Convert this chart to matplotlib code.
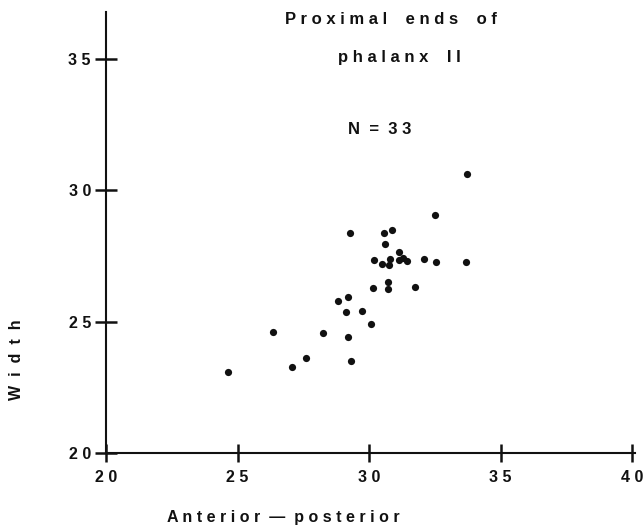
import matplotlib
matplotlib.use("Agg")
import matplotlib.pyplot as plt

# Proximal ends of phalanx II, N = 33
ant_post = [33.72, 32.49, 29.28, 30.56, 30.88, 30.62, 31.15, 30.17, 30.48, 30.75, 30.81,
            31.13, 31.30, 31.45, 32.08, 32.55, 33.68, 30.73, 30.73, 30.14, 31.73, 28.81,
            29.18, 29.10, 29.71, 30.07, 26.35, 28.25, 29.18, 27.59, 27.07, 29.31, 24.62]
width = [30.63, 29.04, 28.37, 28.37, 28.50, 27.94, 27.65, 27.35, 27.21, 27.17, 27.37,
         27.35, 27.43, 27.32, 27.39, 27.25, 27.28, 26.49, 26.23, 26.29, 26.32, 25.80,
         25.92, 25.36, 25.39, 24.92, 24.60, 24.56, 24.43, 23.60, 23.27, 23.50, 23.09]
xticks = [20, 25, 30, 35, 40]
yticks = [20, 25, 30, 35]
title_lines = ['Proximal ends of', 'phalanx II']
n_text = 'N = 33'
x_title = 'Anterior \u2014 posterior'
y_title = 'Width'


def spaced(s, gap=' ', word_gap='    '):
    # typewriter-like letter spacing of the original figure
    return word_gap.join(gap.join(w) for w in s.split(' '))


plt.rcParams['font.family'] = ['Liberation Sans', 'DejaVu Sans']
plt.rcParams['font.weight'] = 'bold'
plt.rcParams['axes.labelweight'] = 'bold'
ink = '#111111'

fig = plt.figure(figsize=(6.44, 5.26), dpi=100)
ax = fig.add_axes([0.1649, 0.1388, 0.8208, 0.8384])

ax.scatter(ant_post, width, s=27, color=ink, linewidths=0, zorder=3)

ax.set_xlim(20, 40.1)
ax.set_ylim(20, 36.78)
ax.set_xticks(xticks)
ax.set_yticks(yticks)
ax.set_xticklabels([spaced(str(t)) for t in xticks], fontsize=11.5, color=ink)
ax.set_yticklabels([spaced(str(t)) for t in yticks], fontsize=11.5, color=ink)

for side in ['top', 'right']:
    ax.spines[side].set_visible(False)
for side in ['left', 'bottom']:
    ax.spines[side].set_linewidth(1.5)
    ax.spines[side].set_color(ink)

ax.tick_params(axis='x', direction='inout', length=13, width=1.8, color=ink, pad=6)
ax.tick_params(axis='y', direction='inout', length=16, width=1.8, color=ink, pad=3)

ax.set_xlabel(spaced(x_title, word_gap='  '), fontsize=11.5, fontweight='bold', color=ink)
ax.xaxis.label.set_va('center')
ax.xaxis.set_label_coords(0.3345, -0.147)
ax.set_ylabel(spaced(y_title, gap='  '), fontsize=11.5, fontweight='bold', color=ink)
ax.yaxis.label.set_va('center')
ax.yaxis.set_label_coords(-0.169, 0.211)

fig.text(0.607, 0.962, spaced(title_lines[0]), fontsize=12, color=ink, ha='center', va='center')
fig.text(0.620, 0.890, spaced(title_lines[1]), fontsize=12, color=ink, ha='center', va='center')
fig.text(0.590, 0.753, spaced(n_text, word_gap='  '), fontsize=12, color=ink, ha='center', va='center')

fig.savefig('out.png', dpi=100)
